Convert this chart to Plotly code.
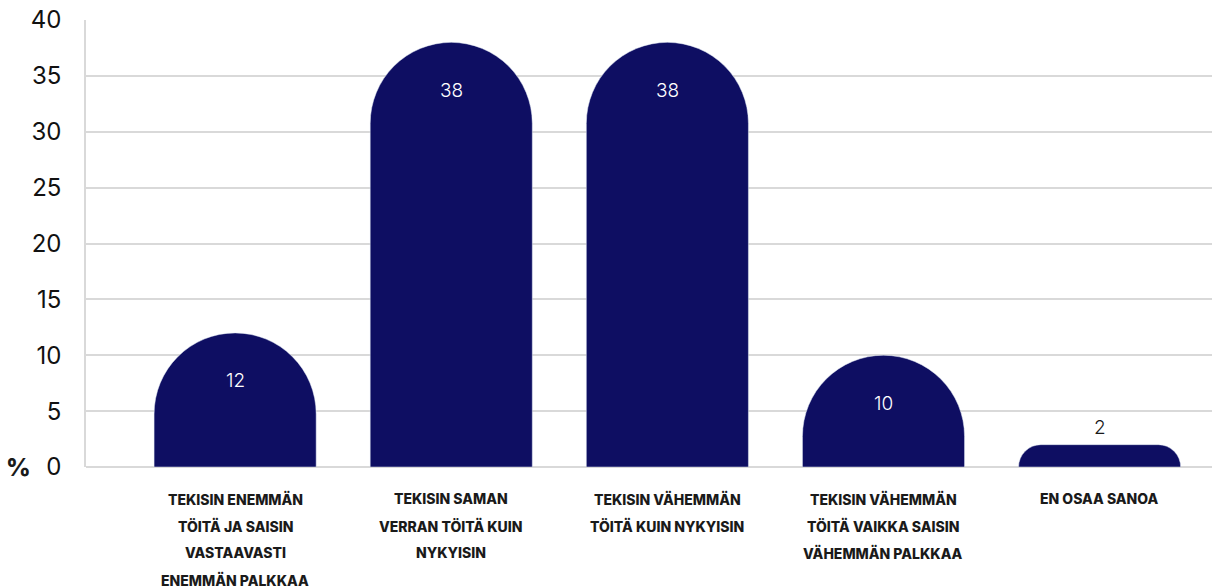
import plotly.graph_objects as go

categories = [
    "TEKISIN ENEMMÄN<br>TÖITÄ JA SAISIN<br>VASTAAVASTI<br>ENEMMÄN PALKKAA",
    "TEKISIN SAMAN<br>VERRAN TÖITÄ KUIN<br>NYKYISIN",
    "TEKISIN VÄHEMMÄN<br>TÖITÄ KUIN NYKYISIN",
    "TEKISIN VÄHEMMÄN<br>TÖITÄ VAIKKA SAISIN<br>VÄHEMMÄN PALKKAA",
    "EN OSAA SANOA",
]
values = [12, 38, 38, 10, 2]
y_ticks = [0, 5, 10, 15, 20, 25, 30, 35, 40]

BAR = "#0e0e62"
TXT = "#1a1a1a"
FONT = "Inter"

idx = list(range(len(categories)))
fig = go.Figure()
fig.add_trace(go.Bar(
    x=idx, y=values, marker=dict(color=BAR, cornerradius="50%"),
    hoverinfo="skip", width=0.75,
))

annotations = []
for i, (c, v) in enumerate(zip(categories, values)):
    lines = c.split("<br>")
    for j, line in enumerate(lines):
        annotations.append(dict(
            x=i, y=0, xref="x", yref="paper", text=line, showarrow=False,
            yanchor="top", xanchor="center", yshift=-21 - 27 * j,
            font=dict(family=FONT, size=14, color=TXT, weight=800),
        ))
    if v > 5:
        annotations.append(dict(
            x=i, y=v, xref="x", yref="y", text=str(v), showarrow=False,
            yanchor="middle", yshift=-48,
            font=dict(family=FONT, size=19, color="white", weight=300),
        ))
    else:
        annotations.append(dict(
            x=i, y=v, xref="x", yref="y", text=str(v), showarrow=False,
            yanchor="bottom", yshift=4,
            font=dict(family=FONT, size=19, color=TXT, weight=300),
        ))

annotations.append(dict(
    x=0, y=0, xref="paper", yref="y", text="%", showarrow=False,
    xanchor="right", yanchor="middle", xshift=-53,
    font=dict(family=FONT, size=24, color=TXT, weight=800),
))

fig.update_layout(
    width=1222, height=588,
    margin=dict(l=86, r=10, t=20, b=121),
    plot_bgcolor="white", paper_bgcolor="white",
    showlegend=False,
    annotations=annotations,
    xaxis=dict(range=[-0.69, 4.52], showticklabels=False, showgrid=False,
               zeroline=False, showline=False, fixedrange=True),
    yaxis=dict(range=[0, 40], tickvals=y_ticks, ticktext=[str(t) for t in y_ticks],
               automargin=False, fixedrange=True,
               showgrid=True, gridcolor="#d9d9d9", gridwidth=1.5,
               zeroline=True, zerolinecolor="#d9d9d9", zerolinewidth=1.5,
               showline=True, linecolor="#d9d9d9", linewidth=1.5,
               ticks="", ticklabelstandoff=18,
               tickfont=dict(family=FONT, size=24, color="#111111")),
)

fig.write_html(
    "out.html",
    config={"displayModeBar": False},
    post_script="document.body.style.margin='0';document.body.style.overflow='hidden';",
)
